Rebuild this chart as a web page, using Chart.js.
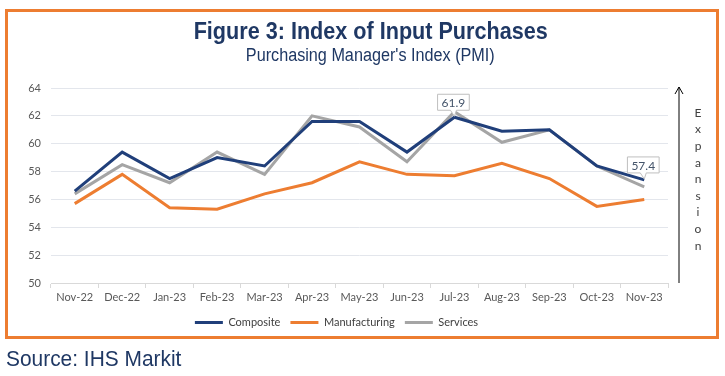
<!DOCTYPE html>
<html>
<head>
<meta charset="utf-8">
<script src="https://cdn.jsdelivr.net/npm/chart.js@4"></script>
<style>
  html, body { margin: 0; padding: 0; background: #fff; }
  #wrap { position: relative; width: 725px; height: 376px; }
  #frame {
    position: absolute; left: 5px; top: 9px; width: 708px; height: 324px;
    border: 3px solid #ED7D31; pointer-events: none;
  }
  .title {
    position: absolute; left: 0; width: 741px; text-align: center;
    color: #1F3864; font-family: "Liberation Sans Narrow", "Liberation Sans", Arial, sans-serif;
  }
  .title span { display: inline-block; transform: scaleX(0.9); }
  #t1 { top: 17px; font-size: 24px; font-weight: bold; }
  #t2 { top: 45px; font-size: 18px; }
  #source {
    position: absolute; left: 6px; top: 346px; font-size: 22px; color: #1F3864;
    font-family: "Liberation Sans Narrow", "Liberation Sans", Arial, sans-serif;
    transform: scaleX(0.95); transform-origin: left center;
  }
  canvas { position: absolute; left: 0; top: 0; }
</style>
</head>
<body>
<div id="wrap">
  <canvas id="pmiChart" width="725" height="376"></canvas>
  <div id="frame"></div>
  <div class="title" id="t1"><span>Figure 3: Index of Input Purchases</span></div>
  <div class="title" id="t2"><span>Purchasing Manager's Index (PMI)</span></div>
  <div id="source">Source: IHS Markit</div>
</div>
<script>
/* ---- data ---- */
const months = ['Nov-22', 'Dec-22', 'Jan-23', 'Feb-23', 'Mar-23', 'Apr-23', 'May-23',
                'Jun-23', 'Jul-23', 'Aug-23', 'Sep-23', 'Oct-23', 'Nov-23'];
const composite     = [56.6, 59.4, 57.5, 59.0, 58.4, 61.6, 61.6, 59.4, 61.9, 60.9, 61.0, 58.4, 57.4];
const manufacturing = [55.7, 57.8, 55.4, 55.3, 56.4, 57.2, 58.7, 57.8, 57.7, 58.6, 57.5, 55.5, 56.0];
const services      = [56.4, 58.5, 57.2, 59.4, 57.8, 62.0, 61.2, 58.7, 62.3, 60.1, 61.0, 58.4, 56.9];
const yTicks = [50, 52, 54, 56, 58, 60, 62, 64];
const labelled = [8, 12];               // composite points with a callout
const sideText = 'Expansion';

const tickFont = { family: 'Lato, "Open Sans", sans-serif', size: 11 };

/* ---- callout labels on composite ---- */
const calloutPlugin = {
  id: 'callouts',
  afterDatasetsDraw(chart) {
    const ctx = chart.ctx;
    const meta = chart.getDatasetMeta(0);
    ctx.save();
    ctx.font = '12px Lato, "Open Sans", sans-serif';
    labelled.forEach(i => {
      const pt = meta.data[i];
      const txt = composite[i].toFixed(1);
      const w = ctx.measureText(txt).width + 8;
      const h = 16;
      const bx = pt.x - w / 2 - 1;
      const by = pt.y - 7 - h;
      ctx.beginPath();
      ctx.moveTo(bx, by);
      ctx.lineTo(bx + w, by);
      ctx.lineTo(bx + w, by + h);
      ctx.lineTo(pt.x + 2, by + h);
      ctx.lineTo(pt.x, pt.y - 1);
      ctx.lineTo(pt.x - 4, by + h);
      ctx.lineTo(bx, by + h);
      ctx.closePath();
      ctx.fillStyle = '#fff';
      ctx.fill();
      ctx.strokeStyle = '#BFBFBF';
      ctx.lineWidth = 1;
      ctx.stroke();
      ctx.fillStyle = '#44546A';
      ctx.textAlign = 'center';
      ctx.textBaseline = 'middle';
      ctx.fillText(txt, bx + w / 2, by + h / 2 + 1);
    });
    ctx.restore();
  }
};

/* ---- expansion arrow on the right ---- */
const arrowPlugin = {
  id: 'expansionArrow',
  afterDraw(chart) {
    const { ctx, chartArea } = chart;
    const x = chartArea.right + 11;
    ctx.save();
    ctx.strokeStyle = '#000';
    ctx.lineWidth = 1;
    ctx.beginPath();
    ctx.moveTo(x, chartArea.bottom);
    ctx.lineTo(x, chartArea.top - 1);
    ctx.moveTo(x - 4, chartArea.top + 6);
    ctx.lineTo(x, chartArea.top - 1);
    ctx.lineTo(x + 4, chartArea.top + 6);
    ctx.stroke();
    ctx.fillStyle = '#404040';
    ctx.font = '12px Lato, "Open Sans", sans-serif';
    ctx.textAlign = 'center';
    ctx.textBaseline = 'middle';
    sideText.split('').forEach((c, k) => {
      ctx.fillText(c, x + 19, chartArea.top + 25 + k * 16.6);
    });
    ctx.restore();
  }
};

new Chart(document.getElementById('pmiChart'), {
  type: 'line',
  data: {
    labels: months,
    datasets: [
      { label: 'Composite', data: composite, borderColor: '#203F7A', backgroundColor: '#203F7A', borderWidth: 3 },
      { label: 'Manufacturing', data: manufacturing, borderColor: '#ED7D31', backgroundColor: '#ED7D31', borderWidth: 3 },
      { label: 'Services', data: services, borderColor: '#A5A5A5', backgroundColor: '#A5A5A5', borderWidth: 3 }
    ]
  },
  options: {
    responsive: false,
    animation: false,
    elements: { point: { radius: 0 }, line: { tension: 0 } },
    layout: { padding: { left: 5, right: 57, top: 88, bottom: 38 } },
    plugins: {
      legend: {
        position: 'bottom',
        labels: {
          usePointStyle: true,
          pointStyle: 'line',
          pointStyleWidth: 28,
          boxHeight: 3,
          color: '#404040',
          font: tickFont,
          padding: 10
        }
      },
      tooltip: { enabled: false }
    },
    scales: {
      x: {
        offset: true,
        afterFit: s => { s.height = 24; },
        grid: { drawOnChartArea: false, offset: true, tickLength: 5, color: '#D9D9D9' },
        border: { color: '#D9D9D9' },
        ticks: { color: '#595959', font: tickFont, padding: 3, maxRotation: 0 }
      },
      y: {
        min: 50, max: 64,
        afterFit: s => { s.width = 46; },
        afterBuildTicks: s => { s.ticks = yTicks.map(v => ({ value: v })); },
        grid: { color: '#E3E6EC', drawTicks: false },
        border: { display: false },
        ticks: { color: '#595959', font: tickFont, padding: 10 }
      }
    }
  },
  plugins: [calloutPlugin, arrowPlugin]
});
</script>
</body>
</html>
